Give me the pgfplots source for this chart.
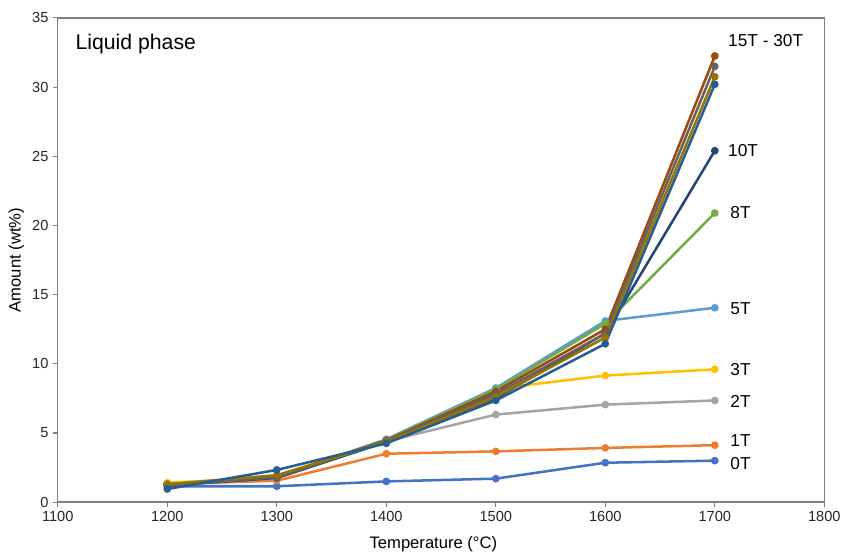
\documentclass[border=0pt]{standalone}
\usepackage{pgfplots}
\pgfplotsset{compat=1.18}
\usepackage{fontspec}
\setmainfont{Liberation Sans}
\definecolor{c0}{HTML}{4472C4}
\definecolor{c1}{HTML}{ED7D31}
\definecolor{c2}{HTML}{A5A5A5}
\definecolor{c3}{HTML}{FFC000}
\definecolor{c5}{HTML}{5B9BD5}
\definecolor{c8}{HTML}{70AD47}
\definecolor{c10}{HTML}{264478}
\definecolor{c15}{HTML}{9E480E}
\definecolor{c20}{HTML}{636363}
\definecolor{c25}{HTML}{997300}
\definecolor{c30}{HTML}{255E91}
\definecolor{axgray}{HTML}{808080}
\begin{document}
\begin{tikzpicture}
\begin{axis}[
  scale only axis,
  width=577pt, height=364.5pt,
  xmin=1100, xmax=1800, ymin=0, ymax=35,
  xtick={1100,1200,...,1800},
  ytick={0,5,...,35},
  /pgf/number format/assume math mode=true,
  xticklabel style={/pgf/number format/1000 sep={}, font=\fontsize{11}{13}\selectfont, text=black!85},
  yticklabel style={font=\fontsize{11}{13}\selectfont, text=black!85},
  tick align=outside,
  tick pos=left,
  major tick length=3.5pt,
  tick style={axgray, line width=0.8pt},
  axis line style={axgray, line width=1pt},
  xlabel={Temperature (\textdegree C)},
  ylabel={Amount (wt\%)},
  xlabel style={font=\fontsize{12.5}{14}\selectfont, at={(axis description cs:0.49,-0.086)}, anchor=center},
  ylabel style={font=\fontsize{12.5}{14}\selectfont, at={(axis description cs:-0.054,0.5)}, anchor=center},
  every axis plot/.append style={line width=1.9pt, mark=*, mark size=1.9pt},
  clip=false,
]
\addplot[c0, mark options={fill=c0}] coordinates {(1200,1.15) (1300,1.15) (1400,1.5) (1500,1.7) (1600,2.85) (1700,3.0)};
\addplot[c1, mark options={fill=c1}] coordinates {(1200,1.3) (1300,1.55) (1400,3.5) (1500,3.67) (1600,3.92) (1700,4.12)};
\addplot[c2, mark options={fill=c2}] coordinates {(1200,1.35) (1300,1.75) (1400,4.4) (1500,6.33) (1600,7.05) (1700,7.35)};
\addplot[c3, mark options={fill=c3}] coordinates {(1200,1.4) (1300,1.8) (1400,4.45) (1500,8.2) (1600,9.15) (1700,9.6)};
\addplot[c5, mark options={fill=c5}] coordinates {(1200,1.3) (1300,1.85) (1400,4.55) (1500,8.25) (1600,13.1) (1700,14.05)};
\addplot[c8, mark options={fill=c8}] coordinates {(1200,1.25) (1300,1.85) (1400,4.5) (1500,8.15) (1600,12.9) (1700,20.9)};
\addplot[c10, mark options={fill=c10}] coordinates {(1200,1.2) (1300,1.75) (1400,4.35) (1500,7.5) (1600,12.2) (1700,25.4)};
\addplot[c15, mark options={fill=c15}] coordinates {(1200,1.25) (1300,1.85) (1400,4.45) (1500,8.0) (1600,12.5) (1700,32.25)};
\addplot[c20, mark options={fill=c20}] coordinates {(1200,1.2) (1300,1.8) (1400,4.4) (1500,7.8) (1600,12.2) (1700,31.5)};
\addplot[c25, mark options={fill=c25}] coordinates {(1200,1.3) (1300,1.95) (1400,4.35) (1500,7.6) (1600,11.9) (1700,30.75)};
\addplot[c30, mark options={fill=c30}] coordinates {(1200,0.95) (1300,2.33) (1400,4.25) (1500,7.35) (1600,11.45) (1700,30.2)};
\draw[axgray, line width=1pt] (rel axis cs:0,1) -- (rel axis cs:1,1) -- (rel axis cs:1,0);
\node[anchor=west, font=\fontsize{16}{19}\selectfont] at (axis description cs:0.017,0.947) {Liquid phase};
\begin{scope}[every node/.style={anchor=west, font=\fontsize{13}{15}\selectfont, inner sep=0pt}]
\node at (axis cs:1712,33.4) {15T - 30T};
\node at (axis cs:1712,25.4) {10T};
\node at (axis cs:1714,20.9) {8T};
\node at (axis cs:1714,14.0) {5T};
\node at (axis cs:1714,9.6) {3T};
\node at (axis cs:1714,7.3) {2T};
\node at (axis cs:1714,4.45) {1T};
\node at (axis cs:1714,2.8) {0T};
\end{scope}
\path (rel axis cs:0,0) ++(-43.5pt,-35.5pt) coordinate (bbsw);
\path (rel axis cs:1,1) ++(13.5pt,13.5pt) coordinate (bbne);
\path (bbsw) rectangle (bbne);
\end{axis}
\end{tikzpicture}
\end{document}
